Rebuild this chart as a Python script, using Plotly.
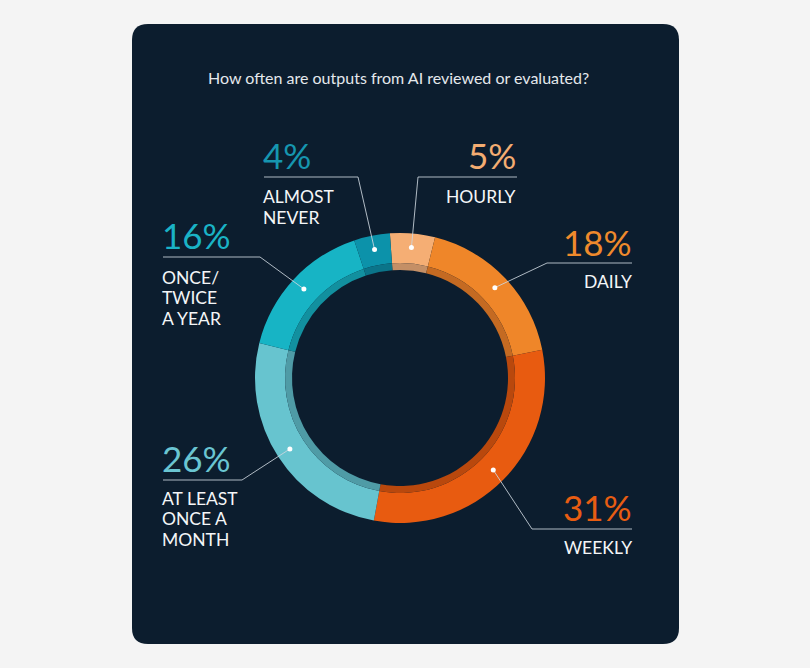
import math

import plotly.graph_objects as go

W, H = 810, 668

# data
categories = ["HOURLY", "DAILY", "WEEKLY", "AT LEAST\nONCE A\nMONTH", "ONCE/\nTWICE\nA YEAR", "ALMOST\nNEVER"]
values = [5, 18, 31, 26, 16, 4]
colors = ["#f5ae74", "#ef8629", "#e85b10", "#67c4cf", "#17b4c5", "#0c92aa"]
shade_colors = ["#c48f66", "#c46a22", "#b9480d", "#4f9ba6", "#12909f", "#0b7489"]
pct_colors = ["#f4ad72", "#ef8a2c", "#e85d12", "#6ac5d2", "#1ab3c6", "#1696b0"]
title = "How often are outputs from AI reviewed or evaluated?"

# layout of the callouts (pixels): pct anchor x, side, pct y, underline x0/x1/y, first label line y
callouts = [
    dict(x=518, side="right", py=155, ul=(418, 517, 177), ly=196),
    dict(x=634, side="right", py=242, ul=(547, 632, 263), ly=282),
    dict(x=634, side="right", py=507, ul=(532, 632, 529), ly=547),
    dict(x=160, side="left", py=458, ul=(163, 242, 480), ly=498),
    dict(x=160, side="left", py=235, ul=(163, 260, 257), ly=277),
    dict(x=261, side="left", py=155, ul=(264, 358, 177), ly=197),
]

CX, CY = 400, 378
R_OUT, R_MID, R_IN = 145, 115, 108
ROT = -4
FONT = "Lato, Open Sans, sans-serif"


def px(x):
    return x / W


def py(y):
    return 1 - y / H


def domain(r):
    return dict(x=[px(CX - r), px(CX + r)], y=[py(CY + r), py(CY - r)])


fig = go.Figure()
fig.add_trace(go.Pie(values=values, labels=categories, sort=False, direction="clockwise",
                     rotation=ROT, hole=R_MID / R_OUT, domain=domain(R_OUT),
                     marker=dict(colors=colors, line=dict(width=0)),
                     textinfo="none", hoverinfo="skip", showlegend=False))
fig.add_trace(go.Pie(values=values, labels=categories, sort=False, direction="clockwise",
                     rotation=ROT, hole=R_IN / R_MID, domain=domain(R_MID),
                     marker=dict(colors=shade_colors, line=dict(width=0)),
                     textinfo="none", hoverinfo="skip", showlegend=False))

shapes = [dict(type="path", xref="paper", yref="paper", layer="below",
               path=(f"M {px(148)},{py(24)} L {px(663)},{py(24)} Q {px(679)},{py(24)} {px(679)},{py(40)} "
                     f"L {px(679)},{py(628)} Q {px(679)},{py(644)} {px(663)},{py(644)} "
                     f"L {px(148)},{py(644)} Q {px(132)},{py(644)} {px(132)},{py(628)} "
                     f"L {px(132)},{py(40)} Q {px(132)},{py(24)} {px(148)},{py(24)} Z"),
               fillcolor="#0c1d2e", line=dict(width=0))]
annotations = [dict(x=px(398), y=py(78), xref="paper", yref="paper", text=title, showarrow=False,
                    xanchor="center", yanchor="middle",
                    font=dict(family=FONT, size=16, color="#e4e8ec", weight=400))]

total = sum(values)
cum = 0
LINE = "rgba(205,214,222,0.85)"
for cat, v, pc, c in zip(categories, values, pct_colors, callouts):
    ang = math.radians(ROT + 360 * (cum + v / 2) / total)
    cum += v
    dx, dy = CX + 131 * math.sin(ang), CY - 131 * math.cos(ang)
    x0, x1, uy = c["ul"]
    inner = x0 if c["side"] == "right" else x1
    shapes.append(dict(type="path", xref="paper", yref="paper",
                       path=f"M {px(x0)},{py(uy)} L {px(x1)},{py(uy)} M {px(inner)},{py(uy)} L {px(dx)},{py(dy)}",
                       line=dict(color=LINE, width=1)))
    shapes.append(dict(type="circle", xref="paper", yref="paper",
                       x0=px(dx - 2.5), x1=px(dx + 2.5), y0=py(dy - 2.5), y1=py(dy + 2.5),
                       fillcolor="white", line=dict(width=0)))
    annotations.append(dict(x=px(c["x"]), y=py(c["py"]), xref="paper", yref="paper", text=f"{v}%",
                            showarrow=False, xanchor=c["side"], yanchor="middle",
                            font=dict(family=FONT, size=35, color=pc, weight=400)))
    for i, line in enumerate(cat.split("\n")):
        annotations.append(dict(x=px(c["x"]), y=py(c["ly"] + i * 20.8), xref="paper", yref="paper",
                                text=line, showarrow=False, xanchor=c["side"], yanchor="middle",
                                font=dict(family=FONT, size=17.5, color="#f4f6f8", weight=400)))

fig.update_layout(width=W, height=H, margin=dict(l=0, r=0, t=0, b=0),
                  paper_bgcolor="#f4f4f4", plot_bgcolor="#f4f4f4",
                  shapes=shapes, annotations=annotations)
fig.write_html("out.html", config=dict(displayModeBar=False),
               post_script="document.body.style.margin='0';document.body.style.background='#f4f4f4';")
